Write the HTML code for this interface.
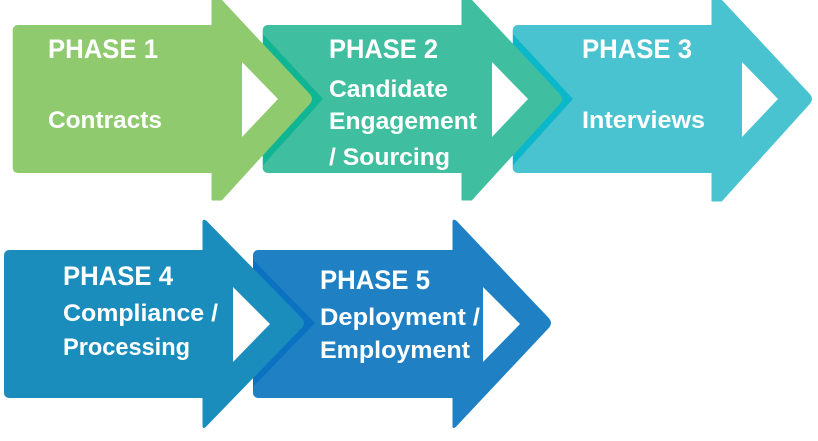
<!DOCTYPE html>
<html><head><meta charset="utf-8"><style>
html,body{margin:0;padding:0;background:#fff;}
svg{display:block;}
text{font-family:"Liberation Sans",Arial,sans-serif;font-weight:bold;fill:#fff;}
.p{font-size:27px;}
.t{font-size:24px;}
</style></head><body>
<svg width="818" height="441" viewBox="0 0 818 441" xmlns="http://www.w3.org/2000/svg">
<defs>
<clipPath id="c2"><rect x="263" y="25" width="200" height="148" rx="5"/></clipPath>
<clipPath id="c3"><rect x="513" y="25" width="200" height="148" rx="5"/></clipPath>
<clipPath id="c5"><rect x="253" y="250" width="201" height="148" rx="5"/></clipPath>
</defs>

<!-- Arrow 3 -->
<g fill="#4ac3d1">
<rect x="512.7" y="25" width="210" height="148" rx="5"/>
<path d="M712,-10 L810,95 Q813,99 810,103 L721.5,201 L712,201 Z" stroke="#4ac3d1" stroke-width="1" stroke-linejoin="round"/>
</g>
<path d="M742,62 L778,99 L742,137 Z" fill="#fff"/>
<!-- band on arrow 3 from arrow 2 head -->
<path clip-path="url(#c3)" d="M472,-10 L573,99 L481.5,200 L472,200 Z" fill="#0db7ca"/>

<!-- Arrow 2 -->
<g fill="#40bfa0">
<rect x="262.7" y="25" width="210" height="148" rx="5"/>
<path d="M462,-10 L560,95 Q563,99 560,103 L471.5,200 L462,200 Z" stroke="#40bfa0" stroke-width="1" stroke-linejoin="round"/>
</g>
<path d="M492,62 L528,99 L492,137 Z" fill="#fff"/>
<!-- band on arrow 2 from arrow 1 head -->
<path clip-path="url(#c2)" d="M222,-10 L323,99 L231.5,200 L222,200 Z" fill="#10b593"/>

<!-- Arrow 1 -->
<g fill="#8fca6e">
<rect x="12.7" y="25" width="210" height="148" rx="5"/>
<path d="M212,-10 L310,95 Q313,99 310,103 L221.5,200 L212,200 Z" stroke="#8fca6e" stroke-width="1" stroke-linejoin="round"/>
</g>
<path d="M242,62 L278,99 L242,137 Z" fill="#fff"/>

<!-- Arrow 5 -->
<g fill="#1f80c4">
<rect x="253" y="250" width="210" height="148" rx="5"/>
<path d="M453,222 Q453,219 456,221 L549,319 Q552,323 549,327 L456,426 Q453,429 453,426 Z" stroke="#1f80c4" stroke-width="1" stroke-linejoin="round"/>
</g>
<path d="M483,287 L520,324 L483,362 Z" fill="#fff"/>
<!-- band on arrow 5 from arrow 4 head -->
<path clip-path="url(#c5)" d="M213,219 L315,323 L213,428 Z" fill="#0a72c0"/>

<!-- Arrow 4 -->
<g fill="#1a8dbd">
<rect x="4" y="250" width="210" height="148" rx="5"/>
<path d="M203,222 Q203,219 206,221 L302,319 Q305,323 302,327 L206,426 Q203,429 203,426 Z" stroke="#1a8dbd" stroke-width="1" stroke-linejoin="round"/>
</g>
<path d="M233,287 L270,324 L233,362 Z" fill="#fff"/>

<!-- Text row 1 -->
<text class="p" x="48" y="58" textLength="110" lengthAdjust="spacingAndGlyphs">PHASE 1</text>
<text class="t" x="48" y="128" textLength="114" lengthAdjust="spacingAndGlyphs">Contracts</text>

<text class="p" x="329" y="58" textLength="109" lengthAdjust="spacingAndGlyphs">PHASE 2</text>
<text class="t" x="329" y="97" textLength="119" lengthAdjust="spacingAndGlyphs">Candidate</text>
<text class="t" x="329" y="129" textLength="148" lengthAdjust="spacingAndGlyphs">Engagement</text>
<text class="t" x="329" y="165" textLength="121" lengthAdjust="spacingAndGlyphs">/ Sourcing</text>

<text class="p" x="582" y="58" textLength="110" lengthAdjust="spacingAndGlyphs">PHASE 3</text>
<text class="t" x="582" y="128" textLength="123" lengthAdjust="spacingAndGlyphs">Interviews</text>

<!-- Text row 2 -->
<text class="p" x="63" y="285" textLength="110" lengthAdjust="spacingAndGlyphs">PHASE 4</text>
<text class="t" x="63" y="321" textLength="155" lengthAdjust="spacingAndGlyphs">Compliance /</text>
<text class="t" x="63" y="355" textLength="127" lengthAdjust="spacingAndGlyphs">Processing</text>

<text class="p" x="320" y="289" textLength="110" lengthAdjust="spacingAndGlyphs">PHASE 5</text>
<text class="t" x="320" y="325" textLength="160" lengthAdjust="spacingAndGlyphs">Deployment /</text>
<text class="t" x="320" y="358" textLength="150" lengthAdjust="spacingAndGlyphs">Employment</text>
</svg>
</body></html>
